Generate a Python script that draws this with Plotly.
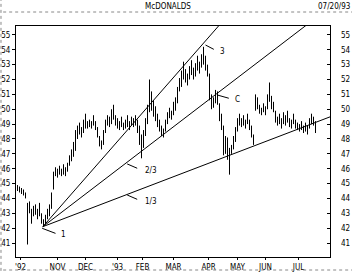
import plotly.graph_objects as go

# ---- data ----
high = [44.9, 44.8, 44.7, 44.6, 44.4, 43.7, 43.8, 43.3, 43.5, 43.6,
        43.3, 43.7, 43.0, 42.6, 42.9, 43.3, 43.6, 44.4, 45.8, 46.1,
        46.0, 46.2, 46.0, 46.3, 46.1, 46.4, 46.9, 47.3, 47.8, 48.6,
        48.9, 49.1, 48.8, 49.3, 49.7, 49.2, 49.3, 49.2, 49.6, 49.2,
        48.8, 48.2, 47.9, 48.6, 49.3, 49.6, 49.5, 50.0, 50.3, 49.6,
        49.4, 49.2, 49.5, 49.1, 49.3, 49.6, 49.2, 49.5, 49.4, 49.6,
        49.3, 48.9, 48.3, 48.6, 49.4, 50.3, 52.0, 51.2, 50.6, 50.2,
        49.7, 49.3, 48.9, 48.7, 49.3, 49.8, 50.1, 49.9, 50.5, 50.8,
        51.5, 52.1, 52.6, 53.2, 52.7, 52.4, 52.9, 53.3, 52.8, 53.1,
        53.6, 53.2, 53.7, 54.2, 53.6, 53.0, 52.4, 51.0, 50.8, 51.3,
        51.2, 50.4, 49.7, 48.9, 48.2, 48.1, 47.4, 47.6, 48.2, 48.8,
        49.4, 49.7, 49.4, 49.6, 49.3, 49.7, 49.3, 48.9, 48.3, 51.0,
        50.8, 50.3, 50.1, 50.4, 50.2, 51.0, 51.8, 50.9, 50.5, 49.9,
        49.5, 49.7, 49.4, 49.8, 49.6, 49.9, 49.4, 49.3, 49.7, 49.3,
        49.1, 49.0, 49.2, 48.9, 49.1, 48.9, 49.4, 49.7, 49.5, 49.2]
low = [44.5, 44.4, 44.3, 44.2, 44.0, 40.9, 43.0, 42.3, 42.8, 42.9,
       42.6, 42.8, 42.3, 42.1, 42.3, 42.6, 42.8, 43.3, 44.6, 45.5,
       45.4, 45.6, 45.5, 45.6, 45.5, 45.8, 46.2, 46.5, 46.8, 47.2,
       48.0, 48.3, 48.1, 48.4, 48.7, 48.7, 48.8, 48.7, 48.9, 48.6,
       48.1, 47.5, 47.3, 47.6, 48.4, 48.9, 48.8, 49.0, 49.3, 48.9,
       48.7, 48.6, 48.8, 48.6, 48.7, 48.8, 48.6, 48.9, 48.8, 48.9,
       48.4, 47.6, 46.7, 47.4, 48.2, 49.0, 49.8, 49.9, 49.5, 49.2,
       48.8, 48.5, 48.2, 48.1, 48.5, 49.0, 49.4, 49.3, 49.6, 49.9,
       50.4, 51.2, 51.5, 52.0, 51.8, 51.6, 52.0, 52.3, 52.0, 52.2,
       52.6, 52.4, 52.8, 53.0, 52.6, 52.2, 50.6, 50.0, 50.1, 50.4,
       50.3, 49.2, 48.6, 46.9, 47.0, 46.6, 45.6, 47.0, 47.3, 47.8,
       48.5, 48.9, 48.8, 48.9, 48.7, 49.0, 48.6, 48.1, 47.6, 49.9,
       50.0, 49.7, 49.6, 49.8, 49.6, 50.0, 50.5, 50.0, 49.8, 49.1,
       48.9, 49.0, 48.7, 49.0, 48.9, 49.1, 48.8, 48.7, 49.0, 48.7,
       48.6, 48.5, 48.6, 48.4, 48.5, 48.3, 48.7, 49.0, 48.9, 48.4]
day = list(range(len(high)))

tick_pos = [1.5, 20, 34, 50, 62.5, 78, 95.5, 110, 124, 140.5]
tick_text = ["'92", "NOV", "DEC", "'93", "FEB", "MAR", "APR", "MAY", "JUN", "JUL"]
price_ticks = list(range(41, 56))

# speed resistance lines: common start, price at right edge
line_start = (12.65, 42.1)
line_end_x = 156.5
line_end_prices = [64.2, 56.9, 49.5]

# labels: (text, leader x0, y0, x1, y1, text x, text y)
labels = [
    ("1", 12.35, 41.99, 19.0, 41.65, 20.9, 41.55),
    ("1/3", 54.85, 44.23, 59.85, 43.94, 62.6, 43.79),
    ("2/3", 54.85, 46.32, 59.85, 46.03, 62.6, 45.91),
    ("3", 94.0, 54.32, 98.15, 54.03, 100.0, 53.89),
    ("C", 99.85, 50.96, 105.65, 50.74, 107.5, 50.66),
]

FONT = "Liberation Sans Narrow, DejaVu Sans Condensed, Arial Narrow, sans-serif"

xs, ys = [], []
for d, h, l in zip(day, high, low):
    xs += [d, d, None]
    ys += [l, h, None]

fig = go.Figure()
fig.add_trace(go.Scatter(x=xs, y=ys, mode="lines",
                         line=dict(color="black", width=1), hoverinfo="skip"))
for p in line_end_prices:
    fig.add_trace(go.Scatter(x=[line_start[0], line_end_x], y=[line_start[1], p],
                             mode="lines", line=dict(color="black", width=1),
                             hoverinfo="skip"))
# invisible trace to show right axis
fig.add_trace(go.Scatter(x=[day[0]], y=[high[0]], yaxis="y2", mode="markers",
                         marker=dict(opacity=0), hoverinfo="skip"))

for t, x0, y0, x1, y1, tx, ty in labels:
    fig.add_shape(type="line", x0=x0, y0=y0, x1=x1, y1=y1, xref="x", yref="y",
                  line=dict(color="black", width=1))
    fig.add_annotation(x=tx, y=ty, text=t, showarrow=False, xanchor="left",
                       yanchor="middle", font=dict(family=FONT, size=8, color="black"))

yr = [40.06, 55.6]
fig.update_layout(
    width=352, height=272,
    margin=dict(l=16, r=22, t=26, b=15),
    paper_bgcolor="white", plot_bgcolor="white",
    showlegend=False,
    font=dict(family=FONT, size=8, color="black"),
    xaxis=dict(range=[-0.75, 156.25], tickvals=tick_pos, ticktext=tick_text,
               showgrid=False, zeroline=False, showline=True, linecolor="black",
               linewidth=1, mirror=True, ticks="outside", ticklen=2,
               tickcolor="black", tickfont=dict(size=8), automargin=False),
    yaxis=dict(range=yr, tickvals=price_ticks, showgrid=False, zeroline=False,
               showline=True, linecolor="black", linewidth=1, mirror=True,
               ticks="outside", ticklen=3, tickcolor="black",
               tickfont=dict(size=8), automargin=False),
    yaxis2=dict(range=yr, tickvals=price_ticks, overlaying="y", side="right",
                showgrid=False, zeroline=False, showline=False, ticks="inside",
                ticklen=3, tickcolor="black", ticklabelstandoff=10,
                tickfont=dict(size=8), automargin=False),
)

# page frame lines and header
fig.add_shape(type="line", xref="paper", yref="paper", x0=-0.06, x1=1.08,
              y0=1.0606, y1=1.0606, line=dict(color="#888", width=1, dash="dot"))
fig.add_shape(type="line", xref="paper", yref="paper", x0=-0.06, x1=1.08,
              y0=-0.0563, y1=-0.0563, line=dict(color="#888", width=1, dash="dot"))
fig.add_shape(type="line", xref="paper", yref="paper", x0=-0.0478, x1=-0.0478,
              y0=-0.06, y1=1.13, line=dict(color="#888", width=1, dash="dot"))
fig.add_annotation(xref="paper", yref="paper", x=(168 - 16) / 314, y=(257 - 6) / 231,
                   text="McDONALDS", showarrow=False, xanchor="center",
                   yanchor="middle", font=dict(family=FONT, size=8))
fig.add_annotation(xref="paper", yref="paper", x=(352 - 16) / 314, y=(257 - 6) / 231,
                   text="07/20/93", showarrow=False, xanchor="right",
                   yanchor="middle", font=dict(family=FONT, size=8))

fig.write_html("out.html")
